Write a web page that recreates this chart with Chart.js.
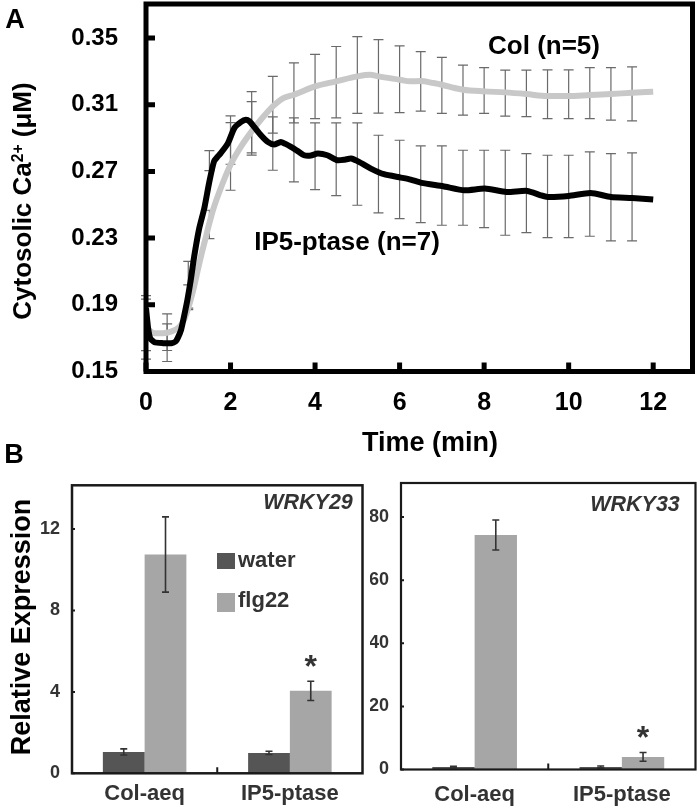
<!DOCTYPE html>
<html>
<head>
<meta charset="utf-8">
<script src="https://cdn.jsdelivr.net/npm/chart.js@4.4.1/dist/chart.umd.min.js"></script>
<style>
  body { margin: 0; background: #fff; }
  #page { position: relative; width: 700px; height: 810px; overflow: hidden;
          font-family: 'Liberation Sans', Arial, sans-serif; font-weight: bold; }
  canvas { position: absolute; }
  .lbl { position: absolute; white-space: nowrap; line-height: 1; }
  .sw { position: absolute; }
  sup { font-size: 0.6em; vertical-align: 0.5em; line-height: 0; }
</style>
</head>
<body>
<div id="page">
  <canvas id="chartA" width="700" height="460" style="left:0;top:0"></canvas>
  <canvas id="chartB1" width="370" height="350" style="left:0;top:460px"></canvas>
  <canvas id="chartB2" width="330" height="350" style="left:370px;top:460px"></canvas>
</div>
<script>
// ---- Panel A: cytosolic Ca2+ traces
const colTime = [0, 0.2, 0.4, 0.6, 0.8, 0.9, 1.0, 1.1, 1.2, 1.3, 1.4, 1.5, 1.6, 1.8, 2.0, 2.25, 2.5, 2.75, 3.0, 3.25,
  3.5, 4.0, 4.5, 5.0, 5.3, 5.5, 6.0, 6.25, 6.5, 6.8, 7.0, 7.3, 7.5, 8.0, 8.5, 9.0, 9.5, 10.0, 10.5, 11.0, 11.5, 12.0];
const colCa = [0.176, 0.173, 0.173, 0.174, 0.177, 0.181, 0.188, 0.197, 0.208, 0.219, 0.229, 0.239, 0.248, 0.262, 0.274,
  0.285, 0.294, 0.302, 0.309, 0.314, 0.316, 0.321, 0.324, 0.327, 0.328, 0.327, 0.325, 0.324, 0.3242, 0.323, 0.322,
  0.320, 0.319, 0.318, 0.3174, 0.3164, 0.3152, 0.3152, 0.3158, 0.3164, 0.3172, 0.3178];

const ipTime = [0, 0.05, 0.1, 0.2, 0.4, 0.6, 0.7, 0.75, 0.83, 0.9, 0.98, 1.06, 1.14, 1.26, 1.38, 1.5, 1.61, 1.7, 1.77,
  1.94, 2.09, 2.25, 2.36, 2.45, 2.56, 2.72, 2.88, 3.03, 3.19, 3.3, 3.43, 3.6, 3.74, 3.9, 4.06, 4.29, 4.53, 4.7, 4.85,
  5.04, 5.32, 5.63, 6.03, 6.26, 6.52, 7.03, 7.53, 8.02, 8.53, 9.02, 9.34, 9.5, 10.0, 10.52, 11.0, 11.5, 12.0];
const ipCa = [0.188, 0.176, 0.170, 0.1675, 0.167, 0.167, 0.168, 0.170, 0.175, 0.183, 0.193, 0.205, 0.219, 0.236, 0.248,
  0.264, 0.276, 0.279, 0.281, 0.287, 0.296, 0.2997, 0.301, 0.300, 0.2967, 0.2917, 0.2877, 0.2861, 0.2877, 0.2865,
  0.2847, 0.282, 0.2797, 0.2795, 0.2807, 0.2797, 0.2767, 0.277, 0.2777, 0.2757, 0.2717, 0.2683, 0.2663, 0.2651,
  0.2631, 0.2611, 0.2587, 0.2597, 0.2577, 0.2583, 0.2557, 0.2547, 0.2553, 0.2571, 0.2547, 0.2541, 0.2531];

// error bars every 0.5 min
const errTime = [0, 0.5, 1, 1.5, 2, 2.5, 3, 3.5, 4, 4.5, 5, 5.5, 6, 6.5, 7, 7.5, 8, 8.5, 9, 9.5, 10, 10.5, 11, 11.5];
const colMean = [0.1754, 0.1736, 0.2016, 0.2382, 0.279, 0.2988, 0.310, 0.3171, 0.3209, 0.3235, 0.3278, 0.327, 0.3253,
  0.324, 0.3216, 0.3188, 0.3185, 0.317, 0.3168, 0.3163, 0.3163, 0.317, 0.3165, 0.3165];
const colSd = [0.018, 0.011, 0.0145, 0.0085, 0.0203, 0.019, 0.017, 0.018, 0.0193, 0.0214, 0.023, 0.022, 0.020, 0.0178,
  0.0168, 0.015, 0.0137, 0.0138, 0.014, 0.0146, 0.0146, 0.0153, 0.0157, 0.0162];
const ipMean = [0.179, 0.1673, 0.195, 0.2765, 0.2888, 0.2965, 0.2867, 0.2829, 0.2791, 0.2773, 0.2744, 0.2684, 0.2652,
  0.2623, 0.2615, 0.2602, 0.2595, 0.2572, 0.257, 0.255, 0.255, 0.2564, 0.2545, 0.2547];
const ipSd = [0.0165, 0.0113, 0.007, 0.006, 0.0145, 0.0154, 0.016, 0.0192, 0.020, 0.0218, 0.0247, 0.0233, 0.0235, 0.023,
  0.0238, 0.0225, 0.0232, 0.0255, 0.0237, 0.0247, 0.0247, 0.0253, 0.0262, 0.0264];

const timeTicks = [0, 2, 4, 6, 8, 10, 12];
const caTicks = [0.15, 0.19, 0.23, 0.27, 0.31, 0.35];

// ---- Panel B: relative expression
const genotypes = ['Col-aeq', 'IP5-ptase'];
const treatments = ['water', 'flg22'];
const wrky29Water = [1.05, 1.0];
const wrky29WaterErr = [0.15, 0.08];
const wrky29Flg = [10.75, 4.05];
const wrky29FlgErr = [1.85, 0.47];
const wrky33Water = [0.8, 0.8];
const wrky33WaterErr = [0.2, 0.3];
const wrky33Flg = [74.3, 4.0];
const wrky33FlgErr = [4.75, 1.4];
const significant = [false, true];   // asterisk above flg22 bar
const wrky29Ticks = [0, 4, 8, 12];
const wrky33Ticks = [0, 20, 40, 60, 80];

const FONT = "'Liberation Sans', Arial, sans-serif";
const colors = { col: '#c8c8c8', ip: '#000000', water: '#555555', flg: '#a6a6a6', text: '#333333', err: '#6a6a6a' };

// fixed axis sizes, no extra label padding around the plot box
function fixWidth(w) { return s => { s.width = w; s.paddingTop = 0; s.paddingBottom = 0; }; }
function fixHeight(h) { return s => { s.height = h; s.paddingLeft = 0; s.paddingRight = 0; }; }

// ---------- panel A plugins
const errorBarsA = {
  id: 'errorBarsA',
  beforeDatasetsDraw(chart) {
    const ctx = chart.ctx, xs = chart.scales.x, ys = chart.scales.y;
    ctx.save();
    ctx.strokeStyle = colors.err;
    ctx.lineWidth = 1.2;
    [[colMean, colSd], [ipMean, ipSd]].forEach(([m, sd]) => {
      errTime.forEach((t, i) => {
        const x = xs.getPixelForValue(t);
        const y1 = ys.getPixelForValue(m[i] + sd[i]);
        const y2 = ys.getPixelForValue(m[i] - sd[i]);
        ctx.beginPath();
        ctx.moveTo(x, y1); ctx.lineTo(x, y2);
        ctx.moveTo(x - 5, y1); ctx.lineTo(x + 5, y1);
        ctx.moveTo(x - 5, y2); ctx.lineTo(x + 5, y2);
        ctx.stroke();
      });
    });
    ctx.restore();
  }
};

const frameA = {
  id: 'frameA',
  afterDatasetsDraw(chart) {
    const ctx = chart.ctx, a = chart.chartArea, xs = chart.scales.x, ys = chart.scales.y;
    ctx.save();
    ctx.strokeStyle = '#000';
    ctx.lineWidth = 5;
    ctx.strokeRect(a.left, a.top, a.right - a.left, a.bottom - a.top);
    ctx.beginPath();
    caTicks.forEach(v => { const y = ys.getPixelForValue(v); ctx.moveTo(a.left, y); ctx.lineTo(a.left + 9, y); });
    timeTicks.forEach(v => { const x = xs.getPixelForValue(v); ctx.moveTo(x, a.bottom); ctx.lineTo(x, a.bottom - 9); });
    ctx.stroke();
    ctx.restore();
  }
};

new Chart(document.getElementById('chartA'), {
  type: 'line',
  data: {
    datasets: [
      { label: 'IP5-ptase (n=7)', data: ipTime.map((t, i) => ({ x: t, y: ipCa[i] })),
        borderColor: colors.ip, borderWidth: 6, pointRadius: 0, tension: 0.2, order: 0 },
      { label: 'Col (n=5)', data: colTime.map((t, i) => ({ x: t, y: colCa[i] })),
        borderColor: colors.col, borderWidth: 6, pointRadius: 0, cubicInterpolationMode: 'monotone', order: 1 }
    ]
  },
  options: {
    responsive: false, animation: false, events: [],
    layout: { padding: { left: 0, right: 7.5, top: 4, bottom: 0 } },
    plugins: { legend: { display: false }, tooltip: { enabled: false } },
    scales: {
      x: {
        type: 'linear', min: 0, max: 12.93, bounds: 'data',
        grid: { display: false, drawTicks: false }, border: { display: false },
        afterBuildTicks: s => { s.ticks = timeTicks.map(v => ({ value: v })); },
        afterFit: fixHeight(88.5),
        ticks: { padding: 16.5, color: '#000', font: { family: FONT, size: 25, weight: 'bold' } }
      },
      y: {
        min: 0.15, max: 0.3704, bounds: 'data',
        grid: { display: false, drawTicks: false }, border: { display: false },
        afterBuildTicks: s => { s.ticks = caTicks.map(v => ({ value: v })); },
        afterFit: fixWidth(146),
        ticks: { padding: 28, color: '#000', callback: v => v.toFixed(2),
                 font: { family: FONT, size: 24, weight: 'bold' } }
      }
    }
  },
  plugins: [errorBarsA, frameA]
});

// ---------- panel B
function barPlugins(waterErr, flgErr, yTicks, frameWidth) {
  return [{
    id: 'barExtras',
    afterDatasetsDraw(chart) {
      const ctx = chart.ctx, a = chart.chartArea, xs = chart.scales.x, ys = chart.scales.y;
      const errs = [waterErr, flgErr];
      ctx.save();
      ctx.strokeStyle = '#333';
      ctx.lineWidth = 1.6;
      chart.data.datasets.forEach((ds, di) => {
        chart.getDatasetMeta(di).data.forEach((bar, i) => {
          const v = ds.data[i], e = errs[di][i];
          const y1 = ys.getPixelForValue(v + e), y2 = ys.getPixelForValue(v - e);
          ctx.beginPath();
          ctx.moveTo(bar.x, y1); ctx.lineTo(bar.x, y2);
          ctx.moveTo(bar.x - 3.5, y1); ctx.lineTo(bar.x + 3.5, y1);
          ctx.moveTo(bar.x - 3.5, y2); ctx.lineTo(bar.x + 3.5, y2);
          ctx.stroke();
          if (di === 1 && significant[i]) {
            ctx.fillStyle = '#333';
            ctx.font = 'bold 32px ' + FONT;
            ctx.textAlign = 'center';
            ctx.textBaseline = 'alphabetic';
            ctx.fillText('*', bar.x, y1 - 4);
          }
        });
      });
      // frame and inward ticks
      ctx.strokeStyle = '#1a1a1a';
      ctx.lineWidth = frameWidth;
      ctx.strokeRect(a.left, a.top, a.right - a.left, a.bottom - a.top);
      ctx.lineWidth = 2;
      ctx.beginPath();
      yTicks.forEach(v => { const y = ys.getPixelForValue(v); ctx.moveTo(a.left, y); ctx.lineTo(a.left + 3, y); });
      for (let i = 0; i < genotypes.length - 1; i++) {
        const x = (xs.getPixelForValue(i) + xs.getPixelForValue(i + 1)) / 2;
        ctx.moveTo(x, a.bottom); ctx.lineTo(x, a.bottom - 6);
      }
      ctx.stroke();
      ctx.restore();
    }
  }];
}

function barChart(id, water, waterErr, flg, flgErr, yMax, yTicks, pad, yWidth, xHeight, tickPad, frameWidth) {
  new Chart(document.getElementById(id), {
    type: 'bar',
    data: {
      labels: genotypes,
      datasets: [
        { label: treatments[0], data: water, backgroundColor: colors.water, borderWidth: 0 },
        { label: treatments[1], data: flg, backgroundColor: colors.flg, borderWidth: 0 }
      ]
    },
    options: {
      responsive: false, animation: false, events: [],
      categoryPercentage: 0.575, barPercentage: 1.0,
      layout: { padding: pad },
      plugins: { legend: { display: false }, tooltip: { enabled: false } },
      scales: {
        x: {
          grid: { display: false, drawTicks: false }, border: { display: false },
          afterFit: fixHeight(xHeight),
          ticks: { padding: tickPad, color: '#333', font: { family: FONT, size: 22, weight: 'bold' } }
        },
        y: {
          min: 0, max: yMax, bounds: 'data',
          grid: { display: false, drawTicks: false }, border: { display: false },
          afterBuildTicks: s => { s.ticks = yTicks.map(v => ({ value: v })); },
          afterFit: fixWidth(yWidth),
          ticks: { padding: 12, color: '#333', font: { family: FONT, size: 18, weight: 'bold' } }
        }
      }
    },
    plugins: barPlugins(waterErr, flgErr, yTicks, frameWidth)
  });
}

barChart('chartB1', wrky29Water, wrky29WaterErr, wrky29Flg, wrky29FlgErr, 14.15, wrky29Ticks,
  { left: 0, right: 7.5, top: 25.3, bottom: 0 }, 72, 36.7, 7.5, 2.5);
barChart('chartB2', wrky33Water, wrky33WaterErr, wrky33Flg, wrky33FlgErr, 90.8, wrky33Ticks,
  { left: 0, right: 4.5, top: 23, bottom: 0 }, 31, 40.5, 12.3, 2.2);

// ---------- text overlay
const page = document.getElementById('page');
function label(html, x, y, size, opts = {}) {
  const d = document.createElement('div');
  d.className = 'lbl';
  d.innerHTML = html;
  d.style.left = x + 'px';
  d.style.top = y + 'px';
  d.style.fontSize = size + 'px';
  d.style.color = opts.color || '#000';
  if (opts.italic) d.style.fontStyle = 'italic';
  const tx = opts.align === 'left' ? '0' : '-50%';
  d.style.transform = 'translate(' + tx + ',-50%)' + (opts.rotate ? ' rotate(-90deg)' : '');
  page.appendChild(d);
}
label('A', 15, 19, 27);
label('B', 14, 454, 27);
label('Col (n=5)', 544, 45, 26);
label('IP5-ptase (n=7)', 347, 241, 26);
label('Time (min)', 430, 442, 27);
label('Cytosolic Ca<sup>2+</sup> (&mu;M)', 22, 201, 26, { rotate: true });
label('Relative Expression', 21, 627, 27, { rotate: true });
label('WRKY29', 308, 503, 21.5, { italic: true, color: '#333' });
label('WRKY33', 635, 505, 21.5, { italic: true, color: '#333' });

// legend for panel B (left)
[[treatments[0], colors.water, 553, 16, 560], [treatments[1], colors.flg, 593, 19, 600]].forEach(([name, c, top, h, cy]) => {
  const s = document.createElement('div');
  s.className = 'sw';
  s.style.cssText = 'left:217px;top:' + top + 'px;width:18px;height:' + h + 'px;background:' + c;
  page.appendChild(s);
  label(name, 238, cy, 22, { align: 'left', color: '#333' });
});
</script>
</body>
</html>
